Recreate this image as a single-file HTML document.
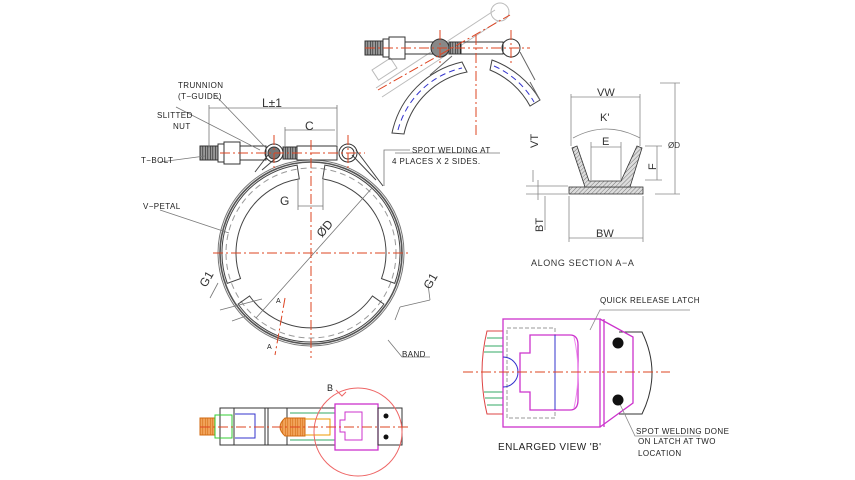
<!DOCTYPE html>
<html><head><meta charset="utf-8"><style>
html,body{margin:0;padding:0;background:#fff;}
svg{display:block;font-family:"Liberation Sans",sans-serif;}
</style></head><body>
<svg width="855" height="480" viewBox="0 0 855 480" xmlns="http://www.w3.org/2000/svg">
<defs>
<pattern id="h" width="3" height="3" patternUnits="userSpaceOnUse" patternTransform="rotate(45)"><rect width="3" height="3" fill="#ddd"/><line x1="0" y1="0" x2="0" y2="3" stroke="#777" stroke-width="1"/></pattern>
<pattern id="th" width="2.5" height="10" patternUnits="userSpaceOnUse"><rect width="2.5" height="10" fill="#999"/><line x1="0" y1="0" x2="0" y2="10" stroke="#222" stroke-width="1.2"/></pattern>
<pattern id="tho" width="2.5" height="10" patternUnits="userSpaceOnUse"><rect width="2.5" height="10" fill="#f2a35a"/><line x1="0" y1="0" x2="0" y2="10" stroke="#d06a10" stroke-width="1.1"/></pattern>
</defs>
<g fill="none" stroke="#444" stroke-width="1">
<circle cx="311" cy="253" r="91" stroke="#555" stroke-width="1.6"/>
<circle cx="311" cy="253" r="93" stroke="#777"/>
<circle cx="311" cy="253" r="85" stroke="#999" stroke-dasharray="6 4"/>
<path d="M324.9,165.1 A89,89 0 0 1 394.7,283.4 L381.5,278.6 A75,75 0 0 0 322.7,178.9 Z"/>
<path d="M383.9,304.1 A89,89 0 0 1 238.1,304.1 L249.6,296 A75,75 0 0 0 372.4,296 Z"/>
<path d="M227.3,283.4 A89,89 0 0 1 297.1,165.1 L299.3,178.9 A75,75 0 0 0 240.5,278.6 Z"/>
<path d="M255,172 L268,155 M262,170 L276,158 M383,186 L356,150 M376,180 L352,155"/>
<rect x="200" y="146" width="18" height="14" fill="url(#th)" stroke="#333"/>
<rect x="218" y="144" width="6" height="18" stroke="#333"/>
<rect x="224" y="142" width="16" height="22" stroke="#333"/>
<rect x="240" y="146" width="26" height="14" stroke="#333"/>
<circle cx="274" cy="153" r="9" stroke="#333"/>
<circle cx="274" cy="153" r="6" fill="#777" stroke="#333"/>
<rect x="283" y="147" width="14" height="12" fill="url(#th)" stroke="#333"/>
<rect x="297" y="146" width="40" height="14" stroke="#333"/>
<circle cx="348" cy="153" r="9" stroke="#333"/>
<circle cx="348" cy="153" r="6" stroke="#333"/>
<path d="M209,108 H337 M209,105 V148 M337,105 V145 M285,130 H335 M285,127 V147 M298,206 H323 M298,180 V210 M323,180 V210 M256,318 L372,188 M410,150 H384 L384,186 M395,153 H500 M176,107 L260,150 M215,95 L265,147 M160,162 L205,156 M160,210 L229,233 M388,340 L402,357 H430 M218,283 L210,298 M232,321 L246,316 M220,310 L262,299 M428,284 L430,300 M400,307 L430,300 M395,320 L400,307" stroke="#777" stroke-width="0.8"/>
</g>
<g stroke="#d42" stroke-width="1" stroke-dasharray="10 3 2 3" fill="none">
<path d="M213,253 H410 M311,140 V358 M274,135 V170 M348,135 V170 M220,153 H365 M285,298 L275,355"/>
</g>
<g font-size="8" fill="#222" letter-spacing="0.4">
<text x="178" y="88">TRUNNION</text><text x="178" y="99">(T−GUIDE)</text>
<text x="157" y="118">SLITTED</text><text x="173" y="129">NUT</text>
<text x="141" y="163">T−BOLT</text>
<text x="143" y="209">V−PETAL</text>
<text x="412" y="153">SPOT WELDING AT</text>
<text x="392" y="164">4 PLACES X 2 SIDES.</text>
<text x="402" y="357">BAND</text>
<text x="276" y="303" font-size="7">A</text><text x="267" y="349" font-size="7">A</text>
</g>
<g font-size="12" fill="#333">
<text x="262" y="107">L±1</text>
<text x="305" y="130">C</text>
<text x="280" y="205">G</text>
<text x="0" y="0" transform="translate(322,238) rotate(-50)">ØD</text>
<text x="0" y="0" transform="translate(206,288) rotate(-60)">G1</text>
<text x="0" y="0" transform="translate(430,290) rotate(-60)">G1</text>
</g>
<g fill="none" stroke="#bbb" stroke-width="1">
<path d="M376,88 L495,10 M382,97 L500,20"/>
<circle cx="500" cy="12" r="9"/>
<rect x="0" y="0" width="22" height="12" transform="translate(372,70) rotate(-33)"/>
</g>
<g fill="none" stroke="#444" stroke-width="1">
<path d="M392,133 A92,92 0 0 1 462,62 L467,72 A80,80 0 0 0 404,134 Z"/>
<path d="M492,60 A92,92 0 0 1 540,100 L530,106 A80,80 0 0 0 490,70 Z"/>
<path d="M398,130 A86,86 0 0 1 462,68 M494,66 A86,86 0 0 1 534,102" stroke="#33c" stroke-dasharray="6 4"/>
<rect x="365" y="41" width="18" height="14" fill="url(#th)" stroke="#333"/>
<rect x="383" y="39" width="6" height="18" stroke="#333"/>
<rect x="389" y="37" width="16" height="22" stroke="#333"/>
<rect x="405" y="42" width="28" height="12" stroke="#333"/>
<circle cx="440" cy="48" r="9" fill="#888" stroke="#333"/>
<rect x="449" y="42" width="12" height="12" fill="url(#th)" stroke="#333"/>
<rect x="461" y="42" width="42" height="12" stroke="#333"/>
<circle cx="511" cy="48" r="9" stroke="#333"/>
<path d="M452,56 L430,75 M520,52 L535,80 M530,82 L540,100" stroke="#666"/>
</g>
<g stroke="#d42" stroke-width="1" stroke-dasharray="10 3 2 3" fill="none">
<path d="M365,48 H530 M440,30 V65 M511,30 V65 M476,35 V135 M378,90 L510,15"/>
</g>
<g fill="none" stroke="#555" stroke-width="0.8">
<rect x="569" y="187" width="74" height="7" fill="url(#h)" stroke="#333"/>
<path d="M572,148 L577,146 L589,181 L621,181 L637,146 L642,148 L630,187 L585,187 Z" fill="url(#h)" stroke="#333"/>
<path d="M571,97 H640 M571,94 V146 M640,94 V146 M573,138 Q606,120 640,138 M591,147 H621 M591,142 V180 M621,142 V180 M657,146 V180 M645,146 H662 M645,180 H662 M675,83 V194 M660,83 H680 M655,194 H680 M569,238 H643 M569,196 V242 M643,196 V242 M533,170 V182 M526,186 H568 M526,194 H568 M545,196 V230 M538,180 V200" stroke="#888"/>
</g>
<g font-size="11" fill="#333">
<text x="597" y="96">VW</text><text x="600" y="121">K'</text><text x="602" y="145">E</text>
<text x="0" y="0" transform="translate(656,170) rotate(-90)">F</text>
<text x="668" y="148" font-size="8">ØD</text>
<text x="0" y="0" transform="translate(538,148) rotate(-90)">VT</text>
<text x="0" y="0" transform="translate(543,232) rotate(-90)">BT</text>
<text x="596" y="237">BW</text>
<text x="531" y="266" font-size="9" letter-spacing="0.6">ALONG SECTION A−A</text>
</g>
<g fill="none" stroke-width="1">
<path d="M503,331 H487 Q477,372 487,414 H503" stroke="#d44"/>
<path d="M487,338 H503 M485,346 H503 M484,352 H503 M484,392 H503 M485,398 H503 M487,405 H503" stroke="#3a6"/>
<path d="M619,332 H642 Q662,373 642,414 H619" stroke="#333"/>
<rect x="503" y="319" width="97" height="108" stroke="#c3c" stroke-width="1.3"/>
<path d="M600,319 L633,337 L633,403 L600,427 M604,319 V427" stroke="#c3c" stroke-width="1.3"/>
<rect x="507" y="328" width="48" height="90" stroke="#999" stroke-dasharray="4 2"/>
<path d="M530,335 H570 Q578,335 578,345 V400 Q578,410 570,410 H530 V392 H520 V353 H530 Z" stroke="#c3c" stroke-width="1.3" fill="#fff"/>
<path d="M574,337 Q582,372 574,408" stroke="#e8e"/>
<path d="M555,335 V410" stroke="#33c"/>
<path d="M503,357 A15,15 0 0 1 503,387" stroke="#33c"/>
<path d="M463,372 H670" stroke="#d42" stroke-dasharray="10 3 2 3"/>
<path d="M590,330 L600,310 H690 M618,400 L635,436 H700" stroke="#888" stroke-width="0.8"/>
</g>
<circle cx="618" cy="343" r="5.5" fill="#111"/>
<circle cx="618" cy="400" r="5.5" fill="#111"/>
<g font-size="8" fill="#222" letter-spacing="0.4">
<text x="600" y="303">QUICK RELEASE LATCH</text>
<text x="498" y="450" font-size="10">ENLARGED VIEW 'B'</text>
<text x="636" y="434">SPOT WELDING DONE</text>
<text x="638" y="444">ON LATCH AT TWO</text>
<text x="638" y="456">LOCATION</text>
</g>
<g fill="none" stroke-width="1">
<rect x="220" y="408" width="67" height="37" stroke="#333"/>
<path d="M234,408 V445 M265,408 V445 M268,408 V445" stroke="#333"/>
<path d="M235,414 H255 V438 H235" stroke="#33c"/>
<rect x="287" y="408" width="48" height="37" stroke="#333"/>
<path d="M290,413 H335 M290,440 H335" stroke="#3a6"/>
<rect x="200" y="418" width="15" height="17" fill="url(#tho)" stroke="#d06a10"/>
<rect x="215" y="415" width="17" height="23" stroke="#3c3"/>
<path d="M285,418 H305 V436 H285 Q275,427 285,418 Z" fill="url(#tho)" stroke="#d06a10"/>
<path d="M305,419 H330 V435 H305" stroke="#e90"/>
<rect x="335" y="404" width="43" height="46" stroke="#c3c" stroke-width="1.3"/>
<path d="M345,412 H362 V440 H345 V432 H340 V420 H345 Z" stroke="#c3c"/>
<rect x="378" y="408" width="24" height="37" stroke="#333"/>
<circle cx="358" cy="432" r="44" stroke="#e66"/>
<path d="M200,427 H408" stroke="#d42" stroke-dasharray="10 3 2 3"/>
<path d="M336,390 L342,396 L346,392" stroke="#e66"/>
</g>
<circle cx="386" cy="416" r="2.5" fill="#111"/><circle cx="386" cy="437" r="2.5" fill="#111"/>
<text x="327" y="391" font-size="9" fill="#222">B</text>
</svg>
</body></html>
